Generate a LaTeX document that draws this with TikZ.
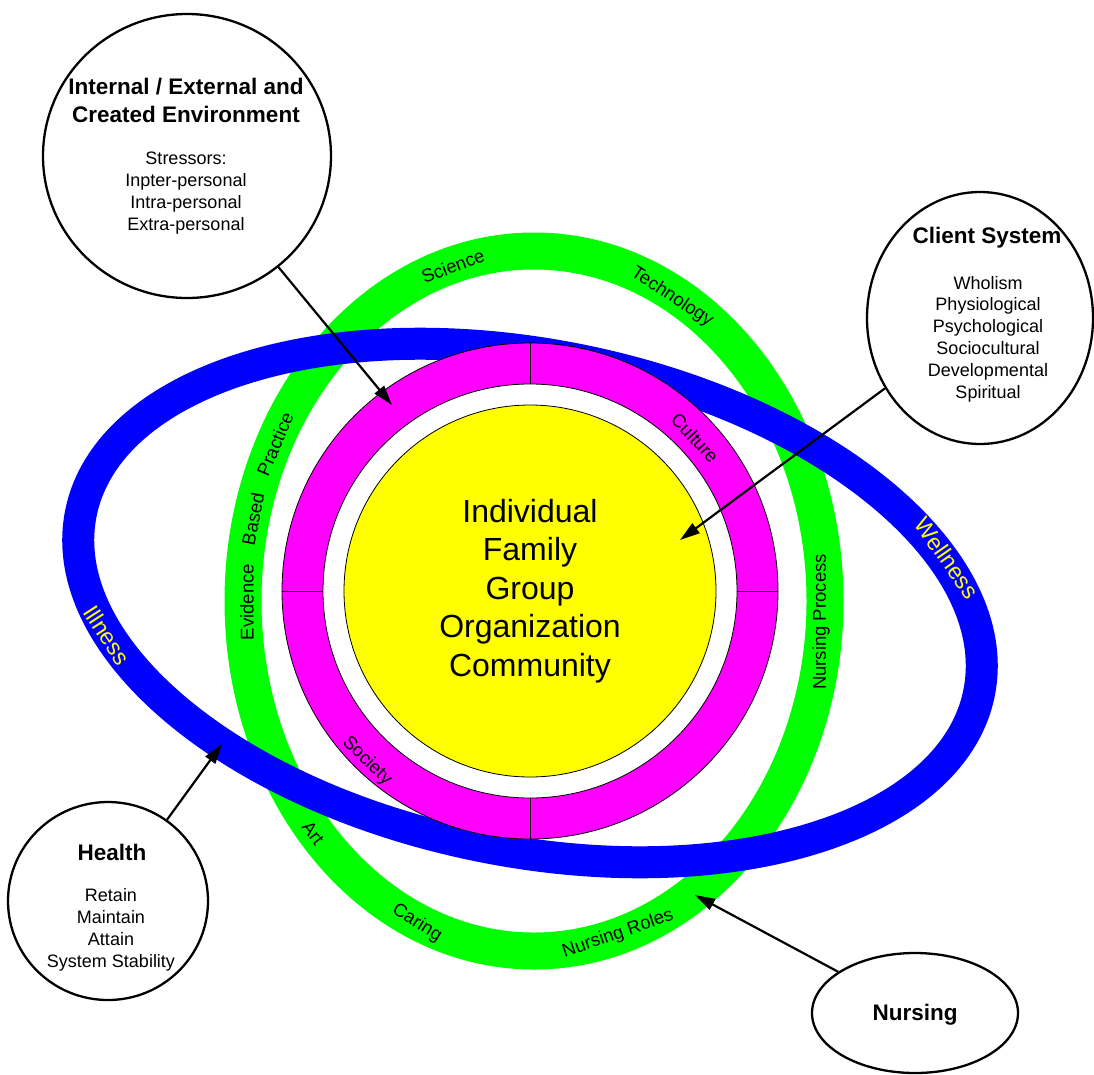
\documentclass[tikz,border=0pt]{standalone}
\usepackage{fontspec}
\setmainfont{Liberation Sans}
\usetikzlibrary{shapes.geometric,arrows.meta}
\definecolor{pgreen}{RGB}{0,255,0}
\definecolor{pblue}{RGB}{0,0,255}
\definecolor{pmag}{RGB}{255,0,255}
\definecolor{pyellow}{RGB}{255,255,0}
\begin{document}
\begin{tikzpicture}[x=1pt,y=-1pt,
  bubble/.style={draw=black, line width=2.3pt, fill=white, ellipse, inner sep=0pt},
  titletext/.style={font=\fontsize{22.5}{28}\selectfont\bfseries, align=center, inner sep=0pt},
  itemtext/.style={font=\fontsize{18}{21.8}\selectfont, align=center, inner sep=0pt},
  bandlabel/.style={font=\fontsize{18.5}{22}\selectfont, inner sep=0pt},
  bluelabel/.style={font=\fontsize{23}{27}\selectfont, text=pyellow, inner sep=0pt},
  thinline/.style={draw=black, line width=0.8pt},
  pointer/.style={draw=black, line width=2.2pt, -{Triangle[length=20pt,width=12pt]}},
]
\useasboundingbox[fill=white] (0,0) rectangle (1094,1074);

% green band
\draw[pgreen, line width=37pt] (534,601) ellipse [x radius=291, y radius=350];
% blue band
\draw[pblue, line width=32pt, rotate around={-11.3:(530,603)}] (530,603) ellipse [x radius=458, y radius=248];

% magenta ring, white gap, yellow core
\draw[thinline, fill=pmag] (530,591) circle [radius=248];
\draw[thinline, fill=white] (530,591) circle [radius=207];
\draw[thinline, fill=pyellow] (530,591) circle [radius=186];
\node[font=\fontsize{32}{38.5}\selectfont, align=center, inner sep=0pt] (core) at (530,591)
      {Individual\\Family\\Group\\Organization\\Community};
\draw[thinline] (530,343) -- (530,384);
\draw[thinline] (530,798) -- (530,839);
\draw[thinline] (282,591) -- (323,591);
\draw[thinline] (737,591) -- (778,591);

% green band labels
\node[bandlabel, rotate=21] (lsci) at (453,266) {Science};
\node[bandlabel, rotate=-33] (ltech) at (672,297) {Technology};
\node[bandlabel, rotate=67] (lprac) at (275,444) {Practice};
\node[bandlabel, rotate=79] (lbased) at (253,519) {Based};
\node[bandlabel, rotate=90] (levid) at (247,602) {Evidence};
\node[bandlabel, rotate=90] (lproc) at (821,622) {Nursing Process};
\node[bandlabel, rotate=-52] (lart) at (313,833) {Art};
\node[bandlabel, rotate=-32] (lcaring) at (417,923) {Caring};
\node[bandlabel, rotate=19] (lroles) at (618,934) {Nursing Roles};
% magenta labels
\node[bandlabel, rotate=-47] (lcult) at (695,438) {Culture};
\node[bandlabel, rotate=-44] (lsoc) at (367,761) {Society};
% blue labels
\node[bluelabel, rotate=-57] (lill) at (107,635) {Illness};
\node[bluelabel, rotate=-55] (lwell) at (947,558) {Wellness};

% bubbles
\node[bubble, minimum width=288pt, minimum height=284pt] (env) at (187,156) {};
\node[titletext] (envtitle) at (186,100) {Internal / External and\\Created Environment};
\node[itemtext] (envlist) at (186,193) {Stressors:\\Inpter-personal\\Intra-personal\\Extra-personal};

\node[bubble, minimum width=226pt, minimum height=252pt] (client) at (980,318) {};
\node[titletext] (clienttitle) at (987,238) {Client System};
\node[itemtext] (clientlist) at (988,339) {Wholism\\Physiological\\Psychological\\Sociocultural\\Developmental\\Spiritual};

\node[bubble, minimum width=200pt, minimum height=198pt] (health) at (108,901) {};
\node[titletext] (healthtitle) at (112,852) {Health};
\node[itemtext] (healthlist) at (111,930) {Retain\\Maintain\\Attain\\System Stability};

\node[bubble, minimum width=206pt, minimum height=120pt] (nursing) at (915,1013) {};
\node[titletext] (nursingtitle) at (915,1015) {Nursing};

% arrows
\coordinate (tipEnv) at (392,405);
\coordinate (tipClient) at (680,540);
\coordinate (tipHealth) at (222,744);
\coordinate (tipNursing) at (695,895);
\draw[pointer] (env) -- (tipEnv);
\draw[pointer] (client) -- (tipClient);
\draw[pointer] (health) -- (tipHealth);
\draw[pointer] (nursing) -- (tipNursing);
\end{tikzpicture}
\end{document}
